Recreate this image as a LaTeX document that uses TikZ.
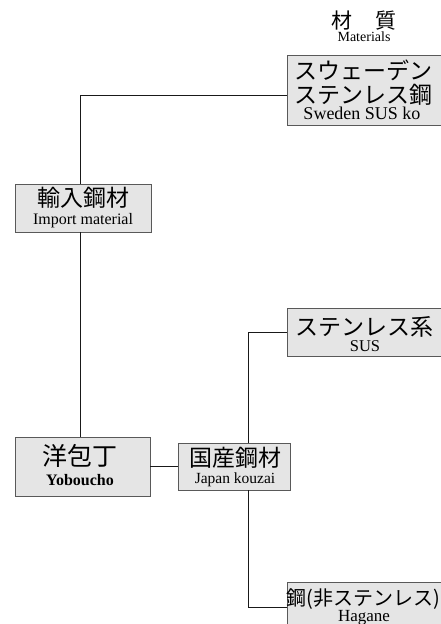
\documentclass[tikz,border=0pt]{standalone}
\usepackage{fontspec}
\setmainfont{Liberation Serif}
\newfontfamily\jpfont{Noto Sans CJK JP}
\usetikzlibrary{shadows}
\newcommand\jpt[2]{{\jpfont\fontsize{#1}{#1}\selectfont #2}}
\newcommand\ent[2]{{\fontsize{#1}{#1}\selectfont #2}}
\begin{document}
\begin{tikzpicture}[x=1pt,y=-1pt,
  box/.style={draw=black!65, line width=0.6pt, fill=black!10, inner sep=0pt,
    general shadow={fill=black!80, shadow xshift=0.9pt, shadow yshift=-0.9pt}},
  lbl/.style={anchor=base, inner sep=0pt},
  conn/.style={draw=black!90, line width=0.9pt}]
\useasboundingbox (0,0) rectangle (441,624);
% boxes
\node[box, minimum width=159pt, minimum height=70pt] (sweden) at (366.5,90) {};
\node[box, minimum width=136pt, minimum height=48pt] (import) at (83,208) {};
\node[box, minimum width=135pt, minimum height=59pt] (yobo) at (82.5,466.5) {};
\node[box, minimum width=112pt, minimum height=47pt] (koku) at (234,466.5) {};
\node[box, minimum width=159pt, minimum height=48pt] (sus) at (366.5,332) {};
\node[box, minimum width=159pt, minimum height=50pt] (hagane) at (366.5,607) {};
% connectors
\draw[conn] ([yshift=-5pt]sweden.west) -| ([xshift=-3pt]import.north);
\draw[conn] ([xshift=-3pt]import.south) -- ([xshift=-2.5pt]yobo.north);
\draw[conn] (yobo.east) -- (koku.west);
\draw[conn] (sus.west) -| ([xshift=14pt]koku.north);
\draw[conn] ([xshift=14pt]koku.south) |- (hagane.west);
% texts
\node[lbl] (t1) at (364,28) {\jpt{21}{材\hspace{1.1em}質}};
\node[lbl] (t2) at (364,41) {\ent{14}{Materials}};
\node[lbl] (sw1) at (363,79) {\jpt{23}{スウェーデン}};
\node[lbl] (sw2) at (363,103) {\jpt{23}{ステンレス鋼}};
\node[lbl] (sw3) at (362,119) {\ent{18}{Sweden SUS ko}};
\node[lbl] (im1) at (83,206) {\jpt{23}{輸入鋼材}};
\node[lbl] (im2) at (83,224) {\ent{16}{Import material}};
\node[lbl] (yb1) at (80,465) {\jpt{25}{洋包丁}};
\node[lbl] (yb2) at (80,485) {\ent{16}{\bfseries Yoboucho}};
\node[lbl] (kk1) at (235,466) {\jpt{23}{国産鋼材}};
\node[lbl] (kk2) at (235,483) {\ent{15.5}{Japan kouzai}};
\node[lbl] (su1) at (364,335) {\jpt{23}{ステンレス系}};
\node[lbl] (su2) at (365,351) {\ent{16.5}{SUS}};
\node[lbl] (hg1) at (363.5,605) {\jpt{20}{鋼(非ステンレス)}};
\node[lbl] (hg2) at (364,621) {\ent{17}{Hagane}};
\end{tikzpicture}
\end{document}
